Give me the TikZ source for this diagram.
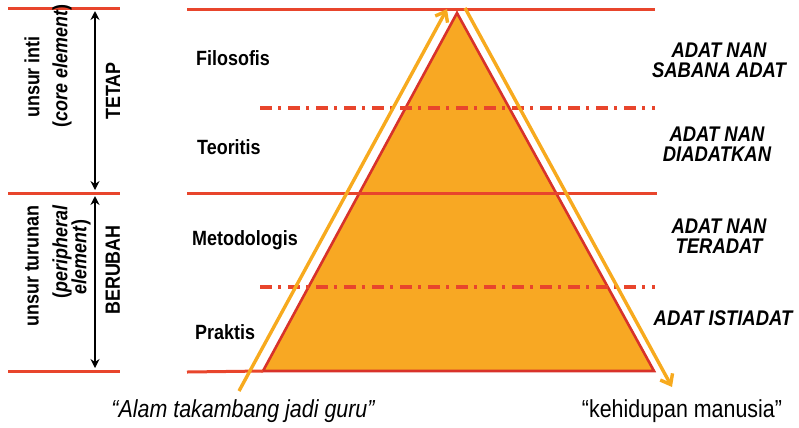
\documentclass[tikz,border=0pt]{standalone}
\usepackage{graphicx}
\usepackage{fontspec}
\setmainfont{Liberation Sans}
\usetikzlibrary{arrows.meta}
\definecolor{lred}{HTML}{E8452C}
\definecolor{tred}{HTML}{D8322A}
\definecolor{tfill}{HTML}{F8A823}
\definecolor{yarrow}{HTML}{F7AA1E}
\newcommand{\tallt}[1]{\scalebox{1}[1.15]{#1}}
\tikzset{
 redline/.style={lred, line width=3bp},
 dashline/.style={lred, line width=3.2bp, dash pattern=on 12bp off 6bp on 3bp off 7bp},
 dbl/.style={black, line width=2.6bp, {Stealth[length=9bp,width=9bp]}-{Stealth[length=9bp,width=9bp]}},
 side/.style={font=\fontsize{18}{20}\selectfont\bfseries, rotate=90, inner sep=0},
 level/.style={font=\fontsize{18}{20}\selectfont\bfseries, anchor=west, inner sep=0},
 adat/.style={font=\fontsize{18.5}{20}\selectfont\bfseries\itshape, align=center, inner sep=0},
 quote/.style={font=\fontsize{21.5}{24}\selectfont, inner sep=0},
 yline/.style={yarrow, line width=3.4bp},
}
\begin{document}
\begin{tikzpicture}[x=1bp,y=-1bp]
\useasboundingbox (0,0) rectangle (799,427);
% left rules
\coordinate (l1a) at (8,8);   \coordinate (l1b) at (120,8);
\coordinate (l2a) at (8,193); \coordinate (l2b) at (120,193);
\coordinate (l3a) at (8,371); \coordinate (l3b) at (120,371);
\draw[redline] (l1a) -- (l1b);
\draw[redline] (l2a) -- (l2b);
\draw[redline] (l3a) -- (l3b);
\coordinate (a1t) at (95,11);  \coordinate (a1b) at (95,190);
\coordinate (a2t) at (95,196); \coordinate (a2b) at (95,368);
\draw[dbl] (a1t) -- (a1b);
\draw[dbl] (a2t) -- (a2b);
\node[side] (ui) at (32,77) {\tallt{unsur inti}};
\node[side] (ce) at (62,66) {\tallt{(\textit{core element})}};
\node[side] (tetap) at (113,91) {\tallt{TETAP}};
\node[side] (ut) at (32,266) {\tallt{unsur turunan}};
\node[side] (pe) at (62,252) {\tallt{(\textit{peripheral}}};
\node[side] (el) at (81,257) {\tallt{\textit{element})}};
\node[side] (berubah) at (113,270) {\tallt{BERUBAH}};
% pyramid
\coordinate (apex) at (457,13);
\coordinate (bl) at (263,371);
\coordinate (br) at (654,371);
\fill[tfill] (apex) -- (bl) -- (br) -- cycle;
\draw[tred, line width=2.6bp, line join=miter] (apex) -- (bl) -- (br) -- cycle;
% horizontal rules
\coordinate (h0a) at (187,9);   \coordinate (h0b) at (655,9);
\coordinate (h1a) at (260,108); \coordinate (h1b) at (655,108);
\coordinate (h2a) at (187,193); \coordinate (h2b) at (657,193);
\coordinate (h3a) at (260,287); \coordinate (h3b) at (655,287);
\coordinate (h4a) at (187,372); \coordinate (h4b) at (654,372);
\draw[redline] (h0a) -- (h0b);
\draw[dashline] (h1a) -- (h1b);
\draw[redline] (h2a) -- (h2b);
\draw[dashline] (h3a) -- (h3b);
\draw[redline] (h4a) -- (bl);
% yellow arrows
\coordinate (ys) at (239,391); \coordinate (ye) at (447,9);
\coordinate (zs) at (465,8);   \coordinate (ze) at (672,387);
\draw[yline, -{Straight Barb[length=9bp,width=14bp]}] (ys) -- (ye);
\draw[yline, -{Straight Barb[length=9bp,width=14bp]}] (zs) -- (ze);
% level labels
\node[level] (fil) at (196,58) {\tallt{Filosofis}};
\node[level] (teo) at (197,147) {\tallt{Teoritis}};
\node[level] (met) at (192,240) {\tallt{Metodologis}};
\node[level] (pra) at (195,332) {\tallt{Praktis}};
% adat labels
\node[adat] (sab) at (719,60) {\tallt{ADAT NAN}\\\tallt{SABANA ADAT}};
\node[adat] (dia) at (717,144) {\tallt{ADAT NAN}\\\tallt{DIADATKAN}};
\node[adat] (ter) at (719,236) {\tallt{ADAT NAN}\\\tallt{TERADAT}};
\node[adat] (ist) at (723,318) {\tallt{ADAT ISTIADAT}};
% bottom quotes
\node[quote, font=\fontsize{21.5}{24}\selectfont\itshape] (alam) at (243,411) {\tallt{“Alam takambang jadi guru”}};
\node[quote] (keh) at (682,411) {\tallt{“kehidupan manusia”}};
\end{tikzpicture}
\end{document}
